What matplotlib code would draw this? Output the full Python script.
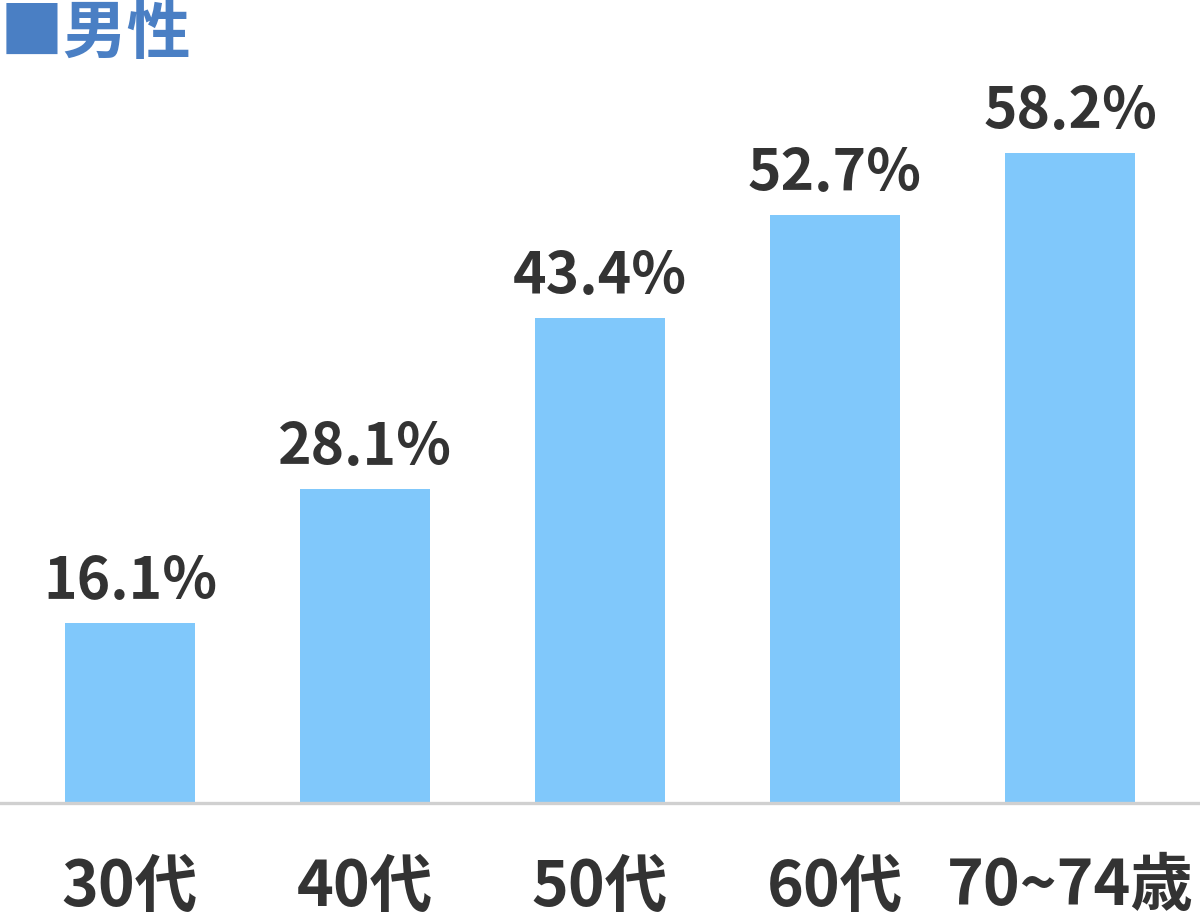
import matplotlib
matplotlib.use("Agg")
import matplotlib.pyplot as plt

plt.rcParams['font.family'] = ['Noto Sans CJK JP', 'DejaVu Sans']

categories = ["30代", "40代", "50代", "60代", "70~74歳"]
values = [16.1, 28.1, 43.4, 52.7, 58.2]
value_labels = ["16.1%", "28.1%", "43.4%", "52.7%", "58.2%"]

fig = plt.figure(figsize=(12, 9.2), dpi=100)
ax = fig.add_axes([0, 0.1261, 1, 0.8739])

x = range(len(categories))
ax.bar(x, values, width=0.553, color="#80c8fb", zorder=2)

for xi, v, lab in zip(x, values, value_labels):
    ax.annotate(lab, (xi, v), xytext=(0, 18), textcoords="offset points",
                ha="center", va="baseline", fontsize=41, fontweight="bold",
                color="#333333")

ax.set_xlim(-0.553, 4.553)
ax.set_ylim(0, 72)
ax.set_xticks(list(x))
ax.set_xticklabels(categories, fontsize=45, fontweight="bold", color="#333333")
ax.tick_params(axis="x", length=0, pad=37)
ax.set_yticks([])
for s in ["top", "left", "right"]:
    ax.spines[s].set_visible(False)
ax.spines["bottom"].set_color("#d0d0d0")
ax.spines["bottom"].set_linewidth(2.4)
ax.patch.set_alpha(0)

fig.text(0.0, 0.998, "■男性", ha="left", va="top", fontsize=46,
         fontweight="bold", color="#4a7fc4")

fig.savefig("out.png", dpi=100)
